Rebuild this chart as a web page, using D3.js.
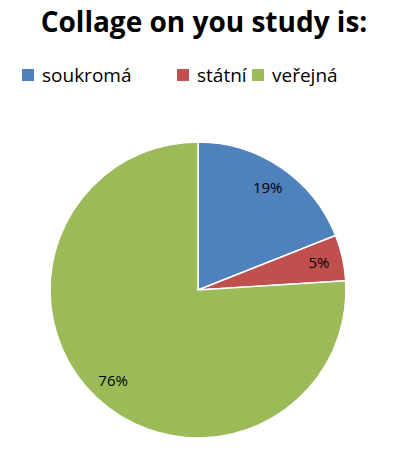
<!DOCTYPE html>
<html><head><meta charset="utf-8">
<script src="https://cdn.jsdelivr.net/npm/d3@7"></script>
<style>body{margin:0;background:#fff;}</style>
</head><body>
<div id="chart"></div>
<script>
var categories = ["soukromá", "státní", "veřejná"];
var values = [19, 5, 76];
var colors = ["#4F81BD", "#C0504D", "#9BBB59"];

var width = 412, height = 456;
var cx = 198, cy = 290, r = 148;

var svg = d3.select("#chart").append("svg")
    .attr("width", width).attr("height", height)
    .style("font-family", "'Open Sans', 'Liberation Sans', sans-serif");

svg.append("text")
    .attr("x", 204).attr("y", 32)
    .attr("text-anchor", "middle")
    .attr("font-size", 28).attr("font-weight", "bold")
    .text("Collage on you study is:");

// legend
var legendX = [22, 177, 252];
var legend = svg.selectAll(".leg").data(categories).enter().append("g")
    .attr("transform", function(d, i){ return "translate(" + legendX[i] + ",75)"; });
legend.append("rect").attr("x", 0).attr("y", -6).attr("width", 12).attr("height", 12)
    .attr("fill", function(d, i){ return colors[i]; });
legend.append("text").attr("x", 20).attr("y", 7).attr("font-size", 19)
    .text(function(d){ return d; });

var pie = d3.pie().sort(null)(values);
var arc = d3.arc().innerRadius(0).outerRadius(r);
var labelArc = d3.arc().innerRadius(124).outerRadius(124);

var g = svg.append("g").attr("transform", "translate(" + cx + "," + cy + ")");
g.selectAll("path").data(pie).enter().append("path")
    .attr("d", arc)
    .attr("fill", function(d, i){ return colors[i]; })
    .attr("stroke", "#fff").attr("stroke-width", 1.5);

g.selectAll(".lbl").data(pie).enter().append("text")
    .attr("transform", function(d){ return "translate(" + labelArc.centroid(d) + ")"; })
    .attr("text-anchor", "middle").attr("dy", "0.35em")
    .attr("font-size", 15).attr("fill", "#000")
    .text(function(d){ return d.data + "%"; });
</script>
</body></html>
